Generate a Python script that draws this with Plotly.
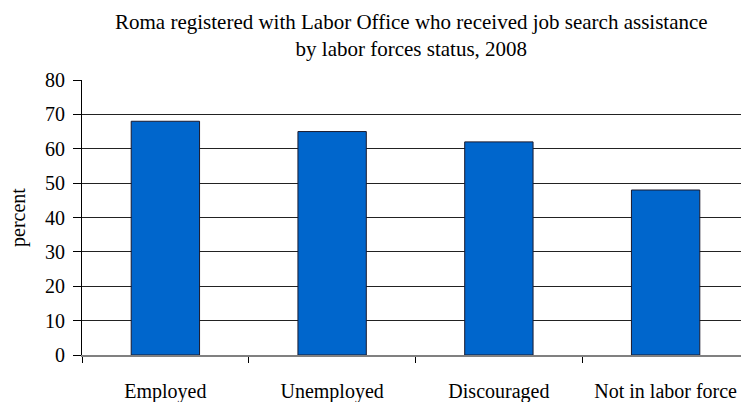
import plotly.graph_objects as go

# Share of Roma registered with the Labor Office who received job search assistance
categories = ["Employed", "Unemployed", "Discouraged", "Not in labor force"]
values = [68, 65, 62, 48]
y_ticks = [0, 10, 20, 30, 40, 50, 60, 70, 80]

serif = "Liberation Serif, Times New Roman, serif"

fig = go.Figure(
    go.Bar(
        x=categories,
        y=values,
        width=0.41,
        marker=dict(color="#0066CC", line=dict(color="#1a1a2e", width=1)),
    )
)

fig.update_layout(
    width=741,
    height=402,
    margin=dict(l=82, r=0, t=80, b=47),
    paper_bgcolor="white",
    plot_bgcolor="white",
    showlegend=False,
    font=dict(family=serif, size=20, color="black"),
    annotations=[
        dict(
            text="Roma registered with Labor Office who received job search assistance<br>by labor forces status, 2008",
            xref="paper",
            yref="paper",
            x=0.5,
            y=1.163,
            xanchor="center",
            yanchor="middle",
            showarrow=False,
            font=dict(family=serif, size=21, color="black"),
        )
    ],
)

fig.update_xaxes(
    type="category",
    range=[-0.5, 3.452],
    automargin=False,
    tickson="boundaries",
    ticks="outside",
    ticklen=6,
    tickcolor="black",
    showgrid=False,
    showline=True,
    linecolor="#808080",
    linewidth=2,
    ticklabelstandoff=17,
    tickfont=dict(family=serif, size=20, color="black"),
)

fig.update_yaxes(
    range=[0, 80],
    automargin=False,
    tickvals=y_ticks,
    ticks="outside",
    ticklen=8,
    tickcolor="black",
    showgrid=True,
    gridcolor="#222222",
    gridwidth=1,
    zeroline=False,
    showline=True,
    linecolor="black",
    linewidth=1,
    ticklabelstandoff=4,
    tickfont=dict(family=serif, size=20, color="black"),
    title=dict(text="percent", standoff=14, font=dict(family=serif, size=20, color="black")),
)

fig.write_html("out.html")
